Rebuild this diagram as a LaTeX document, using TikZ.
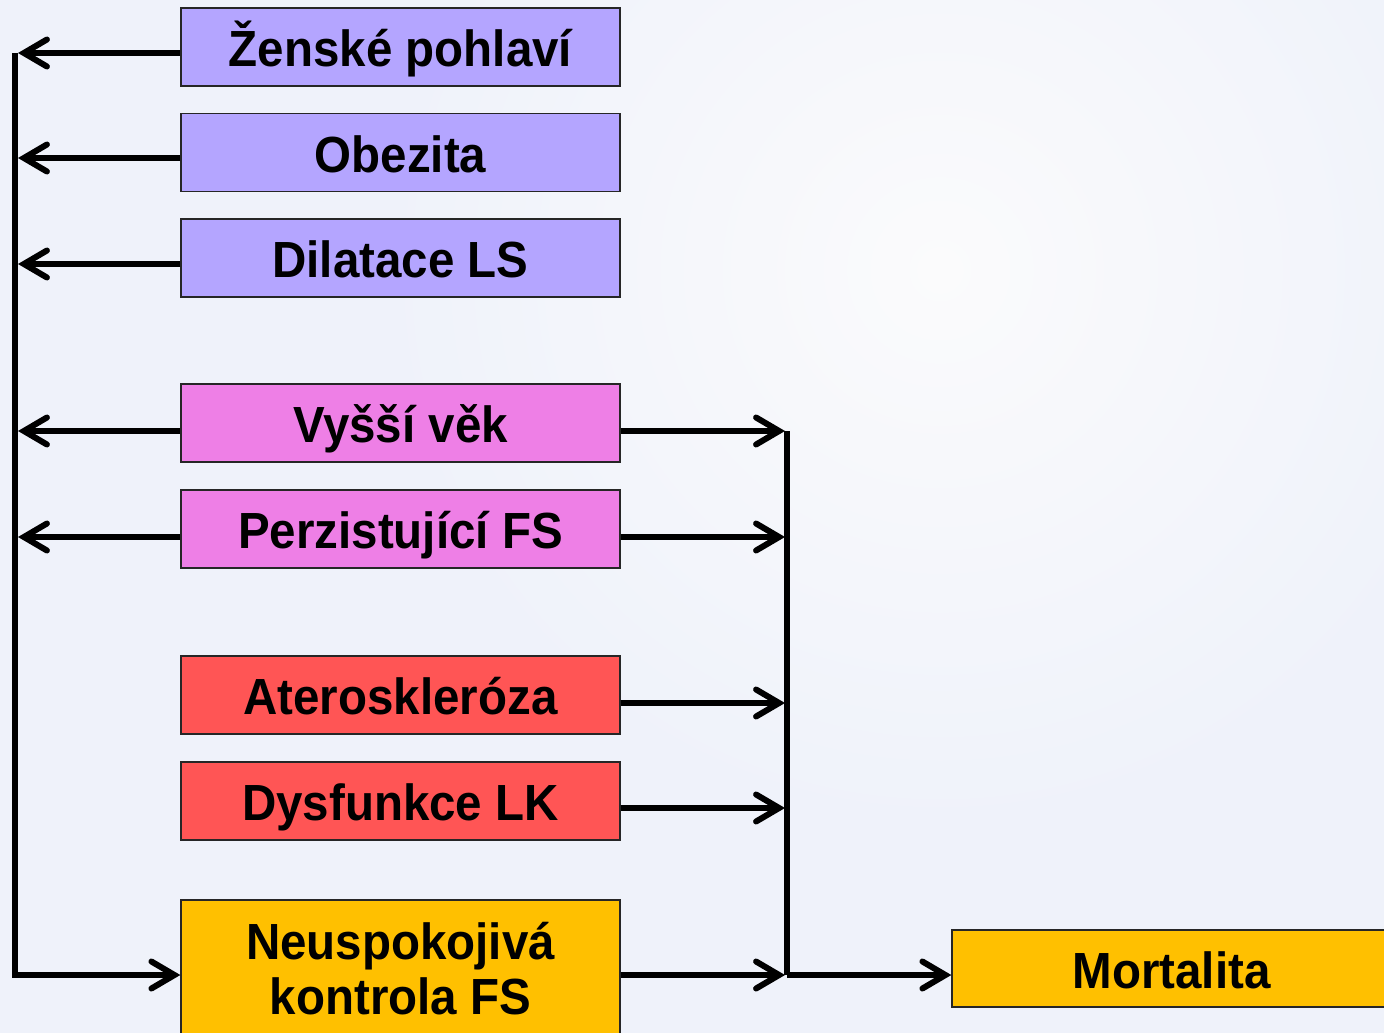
\documentclass[tikz,border=0pt]{standalone}
\usepackage{fontspec}
\setmainfont{Liberation Sans}
\usetikzlibrary{arrows.meta}
\definecolor{bgc}{RGB}{239,242,250}
\definecolor{bgl}{RGB}{251,251,252}
\definecolor{lav}{RGB}{180,165,255}
\definecolor{pnk}{RGB}{238,127,230}
\definecolor{rd}{RGB}{255,85,85}
\definecolor{gld}{RGB}{255,192,0}
\newcommand\stx[1]{\scalebox{1}[1.07]{#1}}
\tikzset{
  box/.style={draw=black!85, line width=1.3pt, minimum width=439pt, minimum height=78pt,
    inner sep=0pt, align=center, text height=40pt, text depth=1pt,
    font=\fontsize{47.5}{57}\selectfont\bfseries},
  box2/.style={draw=black!85, line width=1.3pt, minimum width=439pt, minimum height=138pt,
    inner sep=0pt, align=center, font=\fontsize{47.5}{57}\selectfont\bfseries},
  conn/.style={line width=6pt, -{Straight Barb[length=23pt,width=27pt,line cap=round]}},
  bus/.style={line width=6pt}
}
\begin{document}
\begin{tikzpicture}[x=1pt,y=-1pt]
\useasboundingbox (0,0) rectangle (1384,1033);
\clip (0,0) rectangle (1384,1033);
\fill[bgc] (0,0) rectangle (1384,1033);
\shade[inner color=bgl, outer color=bgc] (940,270) circle (560);
\node[box, fill=lav] (z) at (400.5,47) {\stx{Ženské pohlaví}};
\node[box, fill=lav] (o) at (400.5,152.5) {\stx{Obezita}};
\node[box, fill=lav] (d) at (400.5,258) {\stx{Dilatace LS}};
\node[box, fill=pnk] (v) at (400.5,423) {\stx{Vyšší věk}};
\node[box, fill=pnk] (p) at (400.5,529) {\stx{Perzistující FS}};
\node[box, fill=rd] (a) at (400.5,695) {\stx{Ateroskleróza}};
\node[box, fill=rd] (k) at (400.5,801) {\stx{Dysfunkce LK}};
\node[box2, fill=gld] (n) at (400.5,969) {\stx{Neuspokojivá}\\[-2pt]\stx{kontrola FS}};
\node[box, fill=gld, minimum height=77pt] (m) at (1171.5,968.5) {\stx{Mortalita}};
\coordinate (Ltop) at (15,53);
\coordinate (Rtop) at (787,431);
% left bus
\draw[conn, line join=miter] (Ltop) |- ([yshift=-6pt]n.west);
\foreach \b/\s in {z/-6pt,o/-5.5pt,d/-6pt,v/-8pt,p/-8pt}{
  \draw[conn] ([yshift=\s]\b.west) -- ([yshift=\s, xshift=3pt]\b.west -| Ltop);
}
% right bus
\draw[bus] (Rtop) -- ([yshift=-6pt]Rtop |- n.east);
\foreach \b/\s in {v/-8pt,p/-8pt,a/-8pt,k/-7pt,n/-6pt}{
  \draw[conn] ([yshift=\s]\b.east) -- ([yshift=\s, xshift=-2pt]\b.east -| Rtop);
}
\draw[conn] ([yshift=-6.5pt]m.west -| Rtop) -- ([yshift=-6.5pt]m.west);
\end{tikzpicture}
\end{document}
